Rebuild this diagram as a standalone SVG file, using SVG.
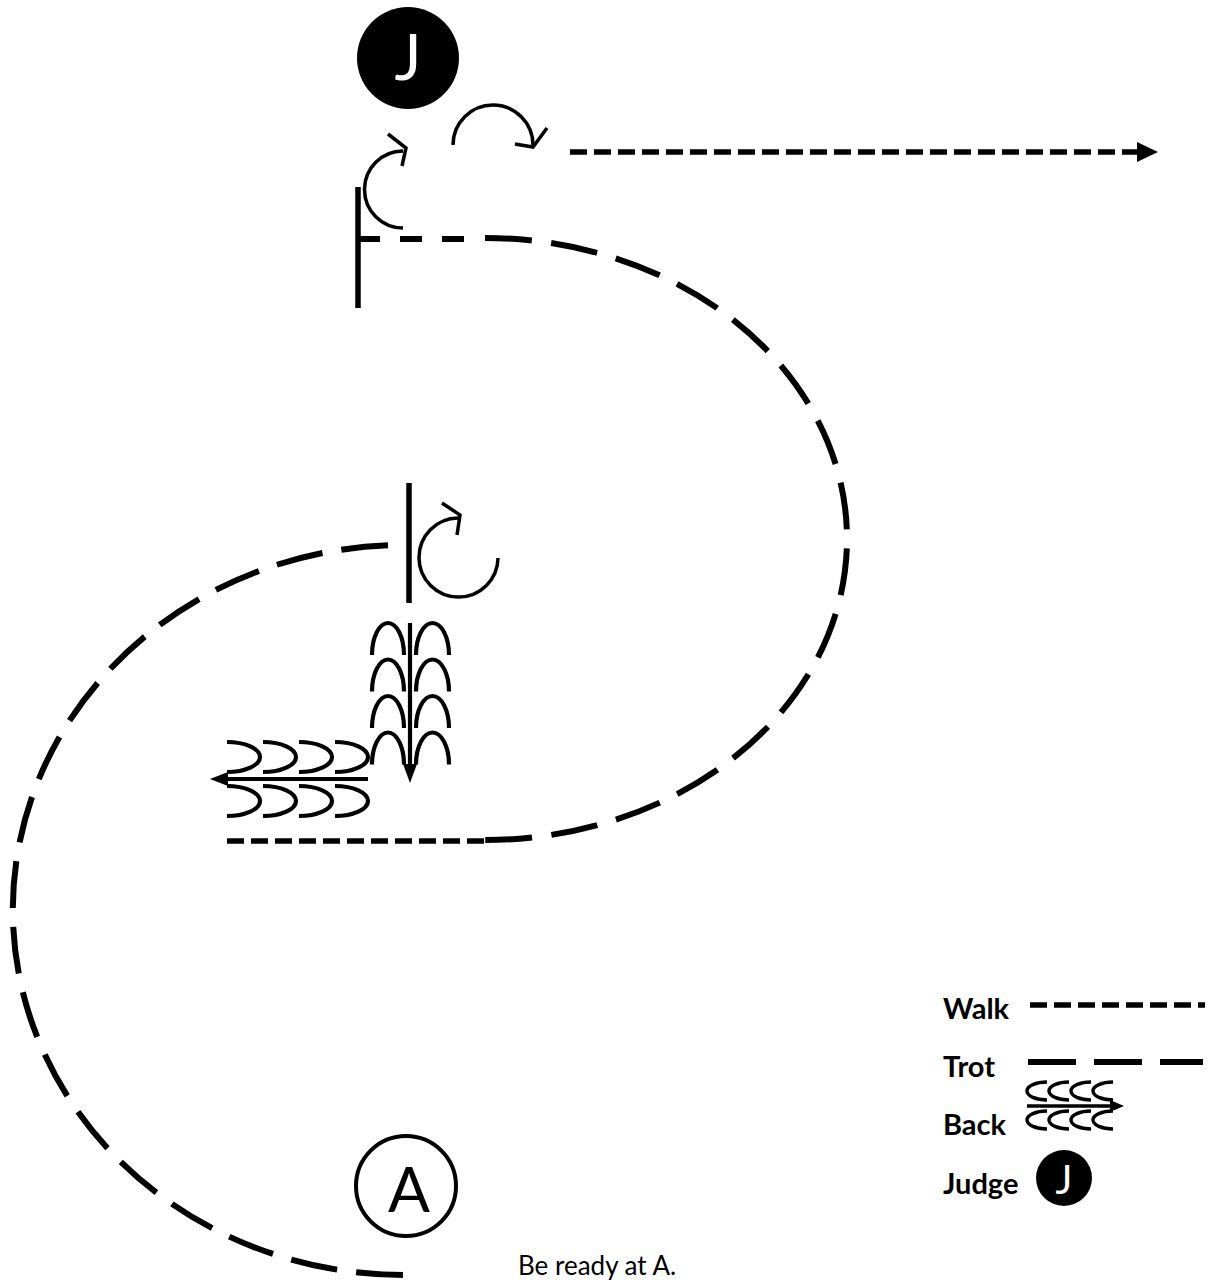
<svg xmlns="http://www.w3.org/2000/svg" width="1217" height="1282" viewBox="0 0 1217 1282">
<style>
  .ln { fill: none; stroke: #000; stroke-linecap: butt; }
  .trot { stroke-width: 6; stroke-dasharray: 47 19.2; }
  .walk { stroke-width: 5.5; stroke-dasharray: 17 7; }
  .tick { stroke-width: 5.5; }
  .turn { stroke-width: 3.5; stroke-linejoin: miter; }
  .step { stroke-width: 4.2; }
  .stepS { stroke-width: 3.4; }
  .head { fill: #000; stroke: none; }
  .lbl { font-family: Lato, "Liberation Sans", sans-serif; font-weight: bold; font-size: 29px; fill: #000; }
  .jtxt { font-family: Lato, "Liberation Sans", sans-serif; fill: #fff; text-anchor: middle; }
  .note { font-family: Lato, "Liberation Sans", sans-serif; font-size: 26px; fill: #000; }
</style>
<rect width="1217" height="1282" fill="#fff"/>

<g id="connectors">
  <!-- start straight segment off the top halt line -->
  <path class="ln trot" style="stroke-dasharray:22 20" d="M 358 239 L 468 239"/>
  <!-- right trot loop -->
  <path class="ln trot" style="stroke-dasharray:47 19.4" d="M 485 238 A 362 301 0 0 1 485 840"/>
  <!-- bottom walk line -->
  <path class="ln walk" d="M 227 841 L 488 841"/>
  <!-- left trot loop -->
  <path class="ln trot" style="stroke-dasharray:47 19.1" d="M 388 545.3 A 391 365 0 0 0 405 1275"/>
  <!-- top walk arrow to the right -->
  <path class="ln walk" d="M 570 152 L 1139 152"/>
  <polygon class="head" points="1137,142 1158,152 1137,162"/>
</g>

<g id="judge">
  <circle cx="408" cy="58" r="51" fill="#000"/>
  <text class="jtxt" x="408" y="80" font-size="64">J</text>
</g>

<g id="halt-top">
  <path class="ln tick" d="M 358 187 L 358 308"/>
</g>

<g id="turn-1">
  <path class="ln turn" d="M 403 228 A 38 38 0 0 1 403 151"/>
  <path class="ln turn" d="M 388 134 L 406 148 L 402 166"/>
</g>

<g id="turn-2">
  <path class="ln turn" d="M 453 145 A 40 40 0 0 1 533 145"/>
  <path class="ln turn" d="M 515 144 L 533 147 L 547 128"/>
</g>

<g id="halt-middle">
  <path class="ln tick" d="M 409 483 L 409 603"/>
</g>

<g id="turn-3">
  <path class="ln turn" d="M 498 558 A 39.5 39.5 0 1 1 458 518"/>
  <path class="ln turn" d="M 442 503 L 460 515 L 457 535"/>
</g>

<g id="forward-steps">
  <path class="ln step" d="M 410 623 L 410 767"/>
  <polygon class="head" points="403,764 417,764 410,783"/>
  <path class="ln step" d="M 372 655 A 16 32 0 0 1 404 655 M 372 691.5 A 16 32 0 0 1 404 691.5 M 372 728 A 16 32 0 0 1 404 728 M 372 764.5 A 16 32 0 0 1 404 764.5"/>
  <path class="ln step" d="M 416 655 A 16.5 32 0 0 1 449 655 M 416 691.5 A 16.5 32 0 0 1 449 691.5 M 416 728 A 16.5 32 0 0 1 449 728 M 416 764.5 A 16.5 32 0 0 1 449 764.5"/>
</g>

<g id="back-steps">
  <path class="ln step" d="M 368 779 L 224 779"/>
  <polygon class="head" points="228,772 228,786 210,779"/>
  <path class="ln step" d="M 227 742 A 33 15 0 0 1 227 772 M 263 742 A 33 15 0 0 1 263 772 M 299 742 A 33 15 0 0 1 299 772 M 335 742 A 33 15 0 0 1 335 772"/>
  <path class="ln step" d="M 227 786 A 33 15 0 0 1 227 816 M 263 786 A 33 15 0 0 1 263 816 M 299 786 A 33 15 0 0 1 299 816 M 335 786 A 33 15 0 0 1 335 816"/>
</g>

<g id="marker-a">
  <circle cx="406" cy="1186" r="50" fill="none" stroke="#000" stroke-width="4"/>
  <text x="409" y="1212" font-family="Lato, 'Liberation Sans', sans-serif" font-size="62" text-anchor="middle" fill="#000">A</text>
</g>

<g id="note">
  <text class="note" x="518" y="1275">Be ready at A.</text>
</g>

<g id="legend">
  <text class="lbl" x="943" y="1019">Walk</text>
  <path class="ln walk" d="M 1030 1005 L 1205 1005"/>
  <text class="lbl" x="943" y="1077">Trot</text>
  <path class="ln" stroke-width="6" stroke-dasharray="48 18" d="M 1028 1062 L 1203 1062"/>
  <text class="lbl" x="943" y="1135">Back</text>
  <path class="ln stepS" d="M 1027 1106 L 1112 1106"/>
  <polygon class="head" points="1110,1100 1124,1106 1110,1112"/>
  <path class="ln stepS" d="M 1047 1082 A 20 9 0 0 0 1047 1100 M 1069 1082 A 20 9 0 0 0 1069 1100 M 1091 1082 A 20 9 0 0 0 1091 1100 M 1113 1082 A 20 9 0 0 0 1113 1100"/>
  <path class="ln stepS" d="M 1047 1111 A 20 9 0 0 0 1047 1129 M 1069 1111 A 20 9 0 0 0 1069 1129 M 1091 1111 A 20 9 0 0 0 1091 1129 M 1113 1111 A 20 9 0 0 0 1113 1129"/>
  <text class="lbl" x="943" y="1194">Judge</text>
  <circle cx="1064" cy="1178" r="28" fill="#000"/>
  <text class="jtxt" x="1064" y="1194" font-size="40">J</text>
</g>
</svg>
